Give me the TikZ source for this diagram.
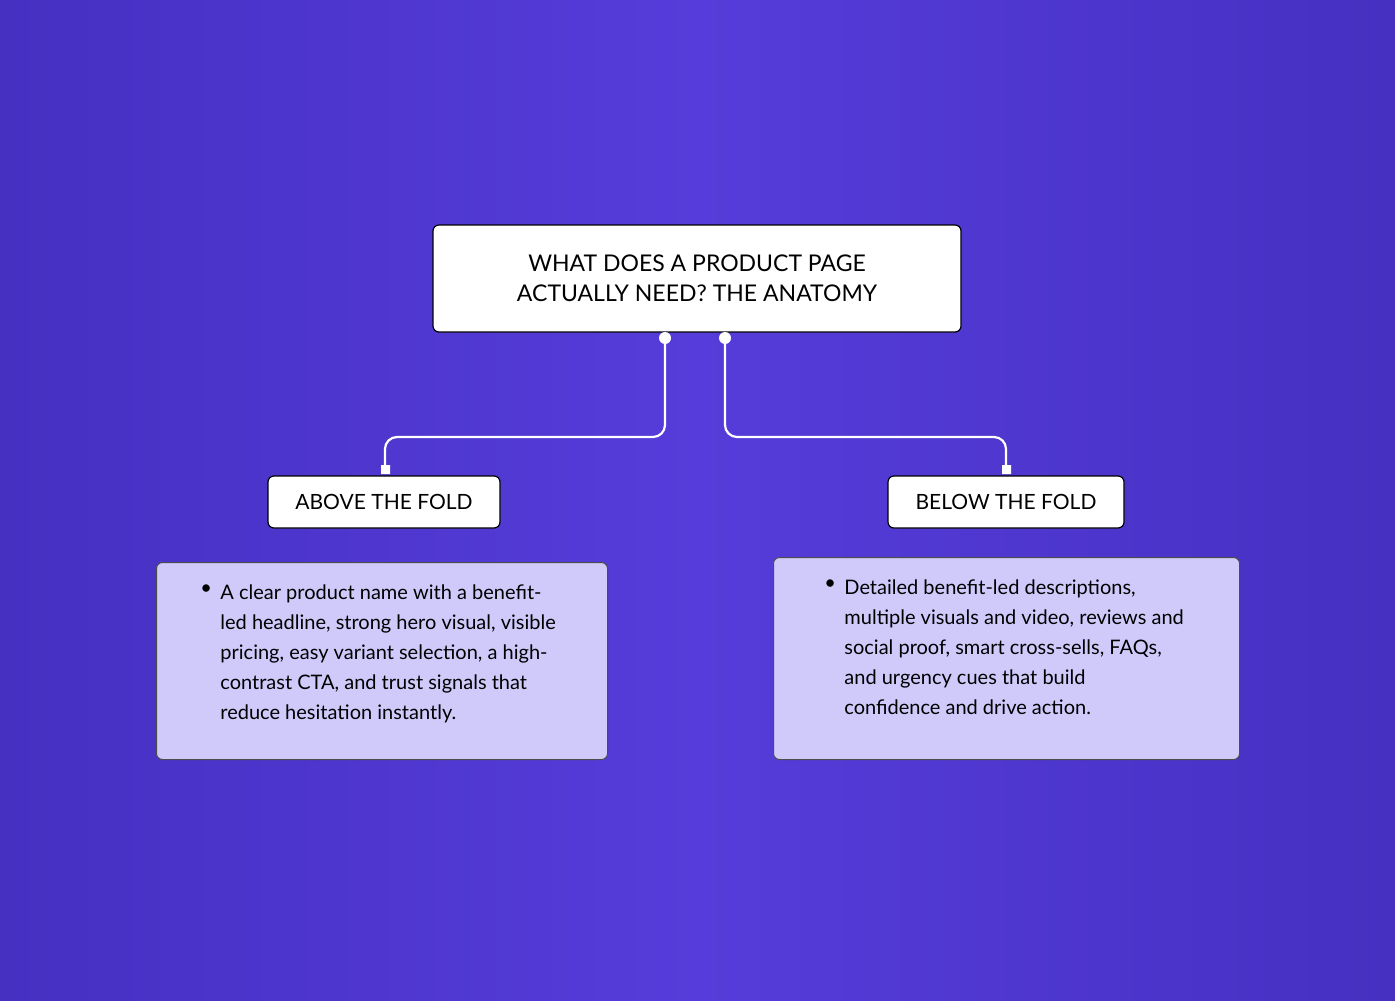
\documentclass[tikz,border=0pt]{standalone}
\usepackage{fontspec}
\setmainfont{Lato}
\definecolor{bgL}{HTML}{4530C2}
\definecolor{bgM}{HTML}{563CDA}
\definecolor{cardfill}{HTML}{D0CAFB}
\tikzset{
  titlebox/.style={draw=black,fill=white,rounded corners=3pt,line width=0.6pt},
  cardbox/.style={draw=black!70,fill=cardfill,rounded corners=3pt,line width=0.5pt},
  conn/.style={draw=white,line width=1.1pt,rounded corners=6pt},
  lbl/.style={font=\fontsize{10.5}{14}\selectfont,align=center,text=black},
  body/.style={font=\fontsize{10}{15}\selectfont,align=left,anchor=north west,inner sep=0pt,text=black}
}
\begin{document}
\begin{tikzpicture}[x=0.5pt,y=-0.5pt]
\useasboundingbox (0,0) rectangle (1395,1000);
\shade[left color=bgL,right color=bgL,middle color=bgM,shading angle=90] (0,0) rectangle (1395,1000);
\node[titlebox,minimum width=264pt,minimum height=53.5pt,lbl,font=\fontsize{11.5}{15}\selectfont] (title) at (697,278.5) {WHAT DOES A PRODUCT PAGE\\ACTUALLY NEED? THE ANATOMY};
\node[titlebox,minimum width=116pt,minimum height=26pt,lbl] (above) at (384,502) {ABOVE THE FOLD};
\node[titlebox,minimum width=118pt,minimum height=26pt,lbl] (below) at (1006,502) {BELOW THE FOLD};
\coordinate (s1) at (665,338); \coordinate (s2) at (725,338);
\coordinate (e1) at (385,470); \coordinate (e2) at (1006,470);
\draw[conn] (s1) -- (665,437) -- (385,437) -- (e1);
\draw[conn] (s2) -- (725,437) -- (1006,437) -- (e2);
\fill[white] (s1) circle (3pt) (s2) circle (3pt);
\fill[white] (381,465) rectangle (390,474) (1002,465) rectangle (1011,474);
\node[cardbox,minimum width=225.5pt,minimum height=98.5pt,anchor=north west] (lc) at (156,562) {};
\node[cardbox,minimum width=233pt,minimum height=101pt,anchor=north west] (rc) at (773,557) {};
\node[body] at (200,584) {•};
\node[body] (lt) at (220,584) {A clear product name with a benefit-\\led headline, strong hero visual, visible\\pricing, easy variant selection, a high-\\contrast CTA, and trust signals that\\reduce hesitation instantly.};
\node[body] at (824,579) {•};
\node[body] (rt) at (844,579) {Detailed benefit-led descriptions,\\multiple visuals and video, reviews and\\social proof, smart cross-sells, FAQs,\\and urgency cues that build\\confidence and drive action.};
\end{tikzpicture}
\end{document}
